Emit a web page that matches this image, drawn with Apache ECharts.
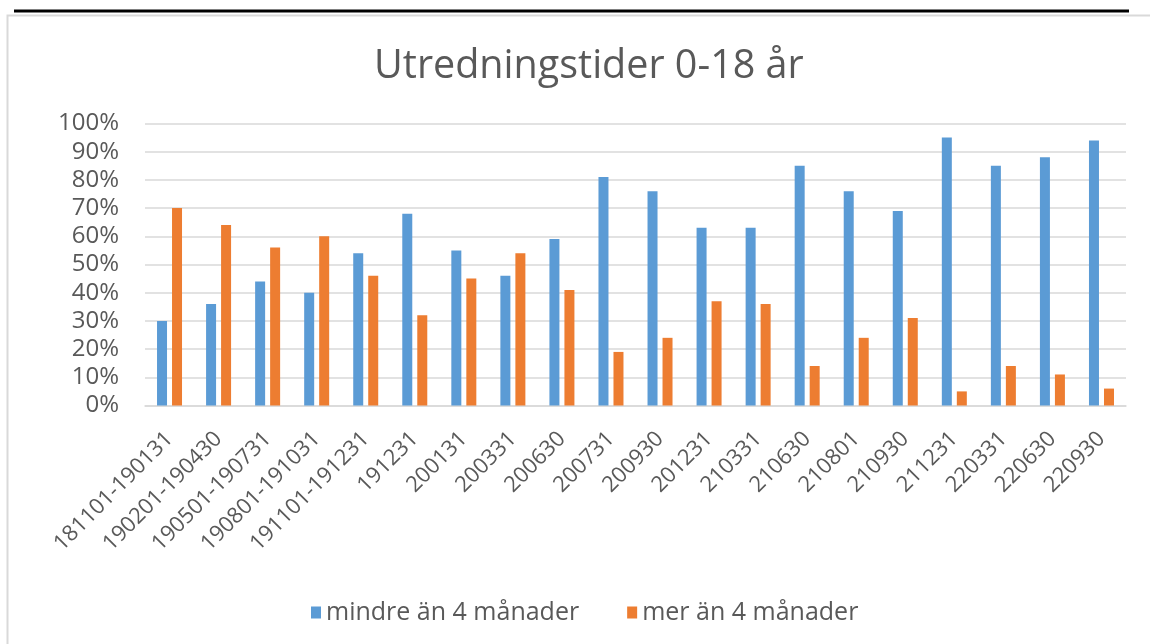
<!DOCTYPE html>
<html><head><meta charset="utf-8">
<script src="https://cdn.jsdelivr.net/npm/echarts@6/dist/echarts.min.js"></script>
<style>html,body{margin:0;padding:0;background:#fff}#c{width:1150px;height:644px}</style>
</head><body><div id="c"></div>
<script>
const categories = ["181101-190131","190201-190430","190501-190731","190801-191031","191101-191231","191231","200131","200331","200630","200731","200930","201231","210331","210630","210801","210930","211231","220331","220630","220930"];
const lessThan4 = [30,36,44,40,54,68,55,46,59,81,76,63,63,85,76,69,95,85,88,94];
const moreThan4 = [70,64,56,60,46,32,45,54,41,19,24,37,36,14,24,31,5,14,11,6];
const yTicks = [0,10,20,30,40,50,60,70,80,90,100];
const seriesNames = ["mindre än 4 månader","mer än 4 månader"];
const titleText = "Utredningstider 0-18 år";

const font = "Open Sans";
const chart = echarts.init(document.getElementById('c'), null, {renderer:'canvas'});
chart.setOption({
  backgroundColor:'#fff',
  animation:false,
  graphic:[
    {type:'rect', shape:{x:7.5,y:15.5,width:1160,height:660}, style:{fill:'none',stroke:'#d9d9d9',lineWidth:2}, z:0},
    {type:'rect', shape:{x:14,y:9.5,width:1115,height:3}, style:{fill:'#000'}, z:1}
  ],
  title:{text:titleText,left:369,top:42,textStyle:{fontFamily:font,fontSize:39.5,fontWeight:'normal',color:'#595959'}},
  grid:{left:145,right:24,top:123.5,bottom:238.5,containLabel:false},
  legend:{top:595,left:306,itemWidth:10,itemHeight:12,itemGap:48,icon:'rect',
    textStyle:{fontFamily:font,fontSize:25,color:'#595959'},data:seriesNames},
  xAxis:{type:'category',data:categories,
    axisLine:{lineStyle:{color:'#d9d9d9',width:1.5}},axisTick:{show:false},
    axisLabel:{interval:0,rotate:45,fontFamily:font,fontSize:22,color:'#595959',margin:30}},
  yAxis:{type:'value',min:0,max:100,interval:10,
    axisLabel:{formatter:v=>v+'%',fontFamily:font,fontSize:24,color:'#595959',margin:26},
    splitLine:{lineStyle:{color:'#d9d9d9',width:1.5}},axisLine:{show:false},axisTick:{show:false}},
  series:[
    {name:seriesNames[0],type:'bar',data:lessThan4,barWidth:10,barGap:'50%',itemStyle:{color:'#5B9BD5'}},
    {name:seriesNames[1],type:'bar',data:moreThan4,barWidth:10,itemStyle:{color:'#ED7D31'}}
  ]
});
</script></body></html>
